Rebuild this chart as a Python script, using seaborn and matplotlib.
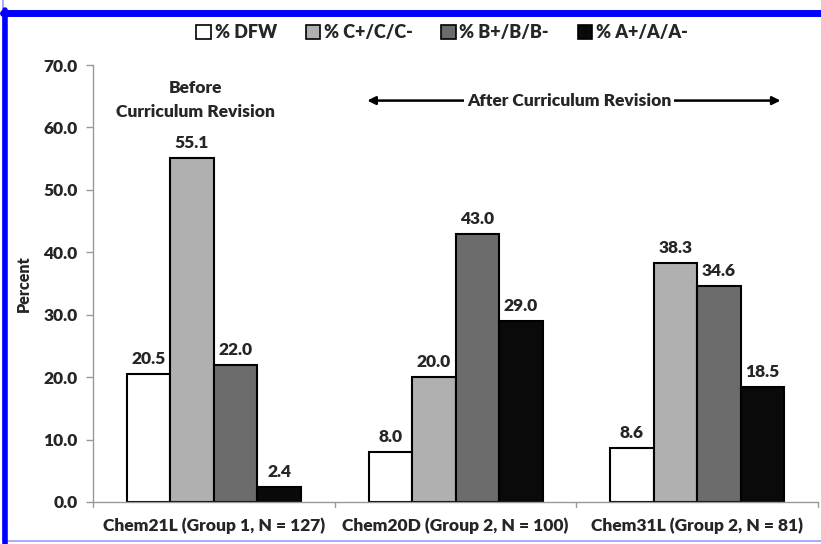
import matplotlib
matplotlib.use("Agg")
import matplotlib.pyplot as plt
import seaborn as sns
import pandas as pd
from matplotlib.patches import Rectangle
from matplotlib.lines import Line2D

courses = ["Chem21L (Group 1, N = 127)", "Chem20D (Group 2, N = 100)", "Chem31L (Group 2, N = 81)"]
grades = ["% DFW", "% C+/C/C-", "% B+/B/B-", "% A+/A/A-"]
dfw = [20.5, 8.0, 8.6]
c_grades = [55.1, 20.0, 38.3]
b_grades = [22.0, 43.0, 34.6]
a_grades = [2.4, 29.0, 18.5]
colors = ["#ffffff", "#b0b0b0", "#6c6c6c", "#0a0a0a"]

rows = []
for g, vals in zip(grades, [dfw, c_grades, b_grades, a_grades]):
    for c, v in zip(courses, vals):
        rows.append({"course": c, "grade": g, "value": v})
df = pd.DataFrame(rows)

sns.set_style("white")
plt.rcParams["font.family"] = ["Lato", "DejaVu Sans"]
plt.rcParams["font.weight"] = "heavy"
FS = 12.5
W = "heavy"

fig = plt.figure(figsize=(8.21, 5.44), dpi=100)
ax = fig.add_axes([93/821, 1-502/544, (818-93)/821, (502-65)/544])

sns.barplot(data=df, x="course", y="value", hue="grade", order=courses, hue_order=grades,
            palette=colors, edgecolor="black", linewidth=1.5, width=0.72, ax=ax,
            legend=False, errorbar=None, saturation=1)

for cont in ax.containers:
    ax.bar_label(cont, fmt="%.1f", padding=5, fontsize=FS, fontweight=W)

ax.set_ylim(0, 70)
ax.set_xlim(-0.5, 2.5)
ax.set_yticks(range(0, 71, 10))
ax.set_yticklabels([f"{v:.1f}" for v in range(0, 71, 10)], fontsize=FS, fontweight=W)
ax.set_xticks([0, 1, 2])
ax.set_xticklabels(courses, fontsize=FS, fontweight=W)
ax.tick_params(axis="x", length=0, pad=11)
ax.tick_params(axis="y", length=5, color="#999999", width=1, pad=6, left=True)
for b in [-0.5, 0.5, 1.5, 2.5]:
    ax.plot([b, b], [0, -0.012], transform=ax.get_xaxis_transform(), color="#999999",
            lw=1, clip_on=False)
for s in ["top", "right"]:
    ax.spines[s].set_visible(False)
for s in ["left", "bottom"]:
    ax.spines[s].set_color("#999999")
    ax.spines[s].set_linewidth(1)
ax.set_xlabel("")
ax.set_ylabel("Percent", fontsize=11.5, fontweight=W, labelpad=8)

# annotations
ax.text(-0.075, 67.6, "Before\nCurriculum Revision", ha="center", va="top",
        fontsize=FS, fontweight=W, linespacing=1.6)
ax.annotate("", xy=(0.635, 64.3), xytext=(1.48, 64.3),
            arrowprops=dict(arrowstyle="-|>", color="black", lw=1.8, mutation_scale=12,
                            shrinkA=0, shrinkB=0))
ax.annotate("", xy=(2.345, 64.3), xytext=(1.48, 64.3),
            arrowprops=dict(arrowstyle="-|>", color="black", lw=1.8, mutation_scale=12,
                            shrinkA=0, shrinkB=0))
ax.text(1.47, 64.3, "After Curriculum Revision", ha="center", va="center",
        fontsize=FS, fontweight=W, bbox=dict(fc="white", ec="none", pad=2))

handles = [Rectangle((0, 0), 1, 1, fc=c, ec="black", lw=1.2) for c in colors]
fig.legend(handles, grades, loc="center", bbox_to_anchor=(442/821, 1-33/544), ncol=4,
           frameon=False, handlelength=0.8, handleheight=0.8,
           handletextpad=0.2, columnspacing=1.6, prop={"weight": W, "size": 13})

# blue frame
fig.patches.append(Rectangle((3/821, 1-541/544), 1.2, 1, transform=fig.transFigure,
                             fill=False, ec="#9999ff", lw=1.2, zorder=0))
fig.add_artist(Line2D([5/821, 5/821], [0, 1-10/544], transform=fig.transFigure,
                      color="#0000ff", lw=4))
fig.add_artist(Line2D([3/821, 1], [1-13/544, 1-13/544], transform=fig.transFigure,
                      color="#0000ff", lw=5))

fig.savefig("out.png", dpi=100)
